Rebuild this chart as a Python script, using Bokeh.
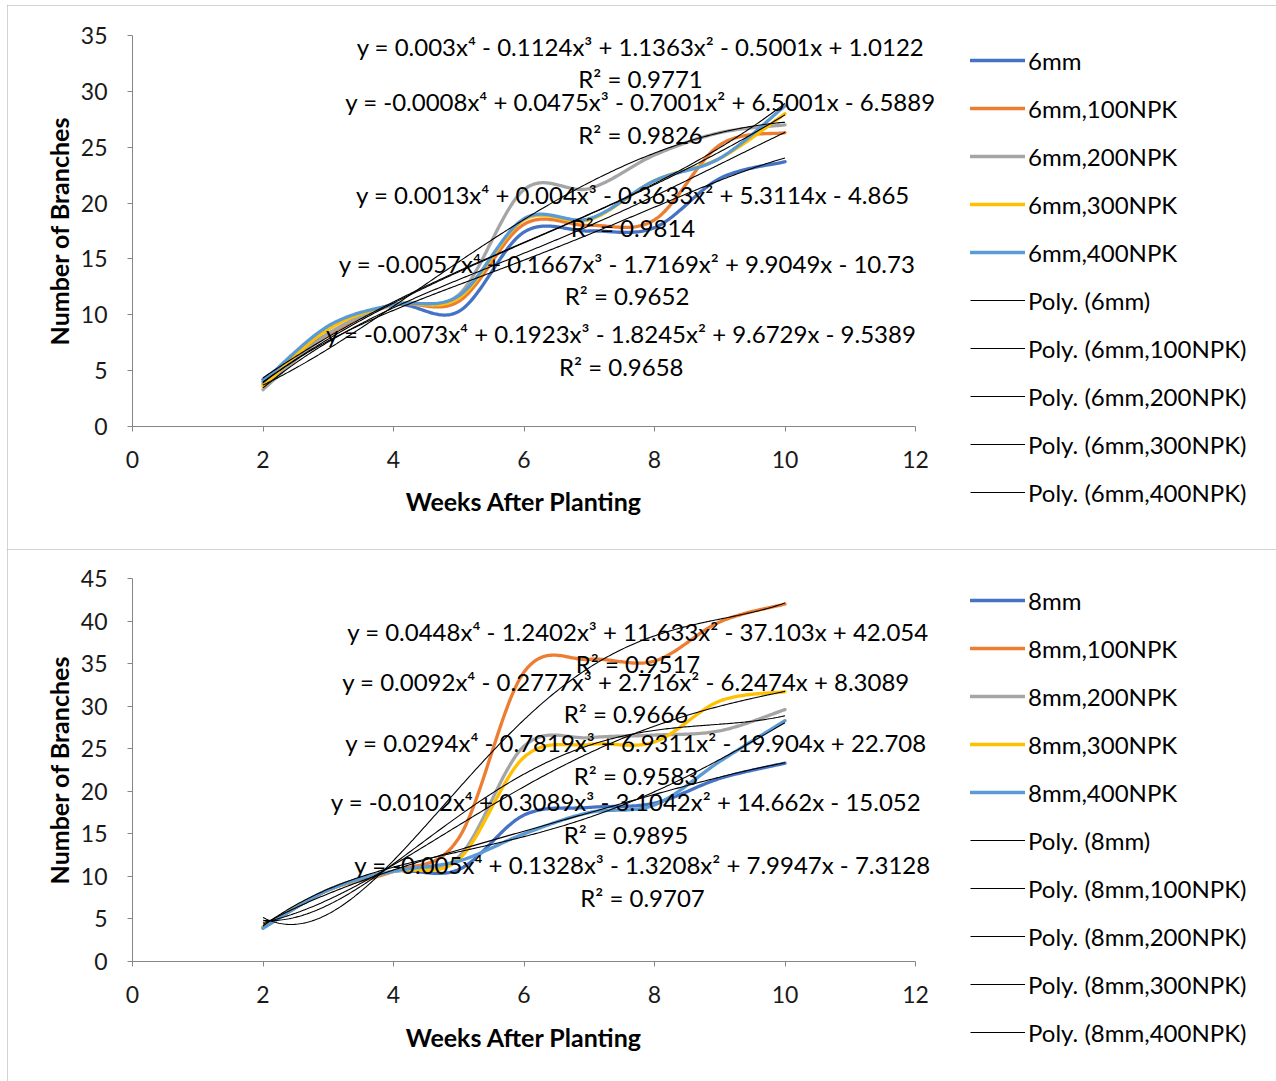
import numpy as np
from bokeh.plotting import figure
from bokeh.models import (Legend, LegendItem, Label, SingleIntervalTicker, Range1d)
from bokeh.layouts import column
from bokeh.embed import file_html
from bokeh.resources import INLINE

# ---------------- data ----------------
weeks = [2, 3, 4, 5, 6, 7, 8, 9, 10]

names_6 = ["6mm", "6mm,100NPK", "6mm,200NPK", "6mm,300NPK", "6mm,400NPK"]
b6_0 = [4.2, 8.3, 10.9, 10.3, 17.4, 17.5, 17.8, 22.2, 23.7]
b6_100 = [3.8, 8.2, 10.9, 11.2, 18.1, 18.0, 18.5, 25.2, 26.3]
b6_200 = [3.3, 8.3, 10.9, 11.8, 21.2, 21.3, 24.3, 26.3, 27.0]
b6_300 = [3.6, 8.7, 10.9, 11.5, 18.5, 18.5, 22.0, 24.0, 28.0]
b6_400 = [4.0, 9.0, 10.9, 11.7, 18.6, 18.6, 22.0, 24.0, 28.7]

# trendline coefficients (x^4 ... x^0) and R^2
c6_0 = [-0.0073, 0.1923, -1.8245, 9.6729, -9.5389]
c6_100 = [-0.0057, 0.1667, -1.7169, 9.9049, -10.73]
c6_200 = [0.003, -0.1124, 1.1363, -0.5001, 1.0122]
c6_300 = [-0.0008, 0.0475, -0.7001, 6.5001, -6.5889]
c6_400 = [0.0013, 0.004, -0.3633, 5.3114, -4.865]
r2_6 = [0.9658, 0.9652, 0.9771, 0.9826, 0.9814]

names_8 = ["8mm", "8mm,100NPK", "8mm,200NPK", "8mm,300NPK", "8mm,400NPK"]
b8_0 = [4.0, 8.4, 10.6, 10.8, 17.2, 18.1, 18.6, 21.5, 23.3]
b8_100 = [4.0, 8.4, 10.6, 14.5, 34.0, 35.5, 35.3, 39.9, 42.0]
b8_200 = [4.0, 8.4, 10.6, 12.3, 25.3, 26.3, 26.6, 27.1, 29.6]
b8_300 = [4.0, 8.4, 10.6, 12.0, 24.0, 25.5, 25.8, 30.6, 31.7]
b8_400 = [3.9, 8.4, 10.6, 11.8, 15.0, 17.5, 18.4, 23.5, 28.3]

c8_0 = [-0.005, 0.1328, -1.3208, 7.9947, -7.3128]
c8_100 = [0.0448, -1.2402, 11.633, -37.103, 42.054]
c8_200 = [0.0294, -0.7819, 6.9311, -19.904, 22.708]
c8_300 = [0.0092, -0.2777, 2.716, -6.2474, 8.3089]
c8_400 = [-0.0102, 0.3089, -3.1042, 14.662, -15.052]
r2_8 = [0.9707, 0.9517, 0.9583, 0.9666, 0.9895]

x_label = "Weeks After Planting"
y_label = "Number of Branches"
x_max = 12

# ---------------- styling / layout ----------------
COLORS = ["#4472C4", "#ED7D31", "#A5A5A5", "#FFC000", "#5B9BD5"]
FONT = "Lato"
FS_TICK = "23px"
FS = "24px"
FS_TITLE = "25px"
W = 1269
X0_PX = 125           # canvas x of week 0
AXIS_W = 783          # pixels spanned by weeks 0..12
LEG_X = 963           # canvas x where the legend keys start
ROW_H, ROW_GAP = 30, 18

# equation label anchor positions (data units): (x, y_eq, y_r2)
pos_6 = [(7.49, 8.33, 5.37), (7.58, 14.59, 11.73), (7.785, 34.02, 31.15),
         (7.785, 29.09, 26.14), (7.67, 20.77, 17.81)]
pos_8 = [(7.816, 11.40, 7.52), (7.747, 38.77, 35.01), (7.716, 25.73, 21.85),
         (7.563, 32.90, 29.14), (7.563, 18.80, 14.92)]


def smooth(xs, ys, n=40):
    """Excel-like smoothed line (Catmull-Rom as cubic Bezier)."""
    P = np.column_stack([xs, ys]).astype(float)
    m = len(P)
    out = []
    t = np.linspace(0, 1, n)[:, None]
    for i in range(m - 1):
        p0 = P[max(i - 1, 0)]
        p1 = P[i]
        p2 = P[i + 1]
        p3 = P[min(i + 2, m - 1)]
        c1 = p1 + (p2 - p0) / 6.0
        c2 = p2 - (p3 - p1) / 6.0
        seg = ((1 - t) ** 3) * p1 + 3 * ((1 - t) ** 2) * t * c1 + 3 * (1 - t) * t ** 2 * c2 + t ** 3 * p2
        if i > 0:
            seg = seg[1:]
        out.append(seg)
    S = np.vstack(out)
    return S[:, 0], S[:, 1]


SUP = ["x\u2074", "x\u00b3", "x\u00b2", "x", ""]


def equation(c):
    s = "y = " + f"{c[0]:g}" + SUP[0]
    for k in range(1, 5):
        sign = " + " if c[k] >= 0 else " - "
        s += sign + f"{abs(c[k]):g}" + SUP[k]
    return s


def make_chart(names, series, coefs, r2s, pos, ymax, height, y0_px, axis_h,
               xtitle_px, leg_top, margin):
    ppx = AXIS_W / x_max
    ppy = axis_h / ymax
    x_rng = Range1d(-X0_PX / ppx, (W - X0_PX) / ppx)
    y_rng = Range1d(-(height - y0_px) / ppy, y0_px / ppy)
    p = figure(width=W, height=height, x_range=x_rng, y_range=y_rng,
               output_backend="svg", toolbar_location=None, title_location=None,
               min_border=0, margin=margin)
    p.outline_line_color = None
    p.xgrid.visible = False
    p.ygrid.visible = False
    p.background_fill_color = "white"
    p.border_fill_color = "white"

    p.xaxis.ticker = SingleIntervalTicker(interval=2, num_minor_ticks=0)
    p.yaxis.ticker = SingleIntervalTicker(interval=5, num_minor_ticks=0)
    p.xaxis.bounds = (0, x_max)
    p.yaxis.bounds = (0, ymax)
    p.xaxis.fixed_location = 0
    p.yaxis.fixed_location = 0
    for ax in (p.xaxis, p.yaxis):
        ax.axis_line_color = "#868686"
        ax.major_tick_line_color = "#868686"
        ax.major_tick_out = 5
        ax.major_tick_in = 0
        ax.minor_tick_line_color = None
        ax.major_label_text_font = FONT
        ax.major_label_text_font_size = FS_TICK
        ax.major_label_text_color = "#1a1a1a"
    p.xaxis.major_label_standoff = 19
    p.yaxis.major_label_standoff = 20

    # axis titles
    p.add_layout(Label(x=x_max / 2, y=-(xtitle_px - y0_px) / ppy, text=x_label,
                       text_align="center", text_baseline="middle", text_font=FONT,
                       text_font_size=FS_TITLE, text_font_style="bold", text_color="#000000"))
    p.add_layout(Label(x=-(X0_PX - 51) / ppx, y=ymax / 2, text=y_label, angle=np.pi / 2,
                       text_align="center", text_baseline="middle", text_font=FONT,
                       text_font_size=FS_TITLE, text_font_style="bold", text_color="#000000"))

    data_items = []
    for name, ys, col in zip(names, series, COLORS):
        sx, sy = smooth(weeks, ys)
        r = p.line(sx, sy, line_color=col, line_width=3.3, line_join="round", line_cap="round")
        data_items.append(LegendItem(label=name, renderers=[r]))

    poly_items = []
    for name, c in zip(names, coefs):
        xx = np.linspace(weeks[0], weeks[-1], 300)
        yy = np.polyval(c, xx)
        r = p.line(xx, yy, line_color="#000000", line_width=1.1)
        poly_items.append(LegendItem(label=f"Poly. ({name})", renderers=[r]))

    for c, r2, (lx, ly1, ly2) in zip(coefs, r2s, pos):
        p.add_layout(Label(x=lx, y=ly1, text=equation(c), text_align="center",
                           text_baseline="middle", text_font=FONT, text_font_size=FS,
                           text_color="#000000"))
        p.add_layout(Label(x=lx, y=ly2, text=f"R\u00b2 = {r2}", text_align="center",
                           text_baseline="middle", text_font=FONT, text_font_size=FS,
                           text_color="#000000"))

    items = data_items + poly_items
    n = len(items)
    leg_h = n * ROW_H + (n - 1) * ROW_GAP
    vy = height - leg_top - leg_h
    legend = Legend(items=items, location=(LEG_X, vy),
                    padding=0, margin=0, spacing=ROW_GAP,
                    glyph_width=55, glyph_height=ROW_H, label_height=ROW_H,
                    label_standoff=3, border_line_color=None,
                    background_fill_alpha=0,
                    label_text_font=FONT, label_text_font_size=FS,
                    label_text_color="#000000")
    p.add_layout(legend)
    p.styles = {"outline": "1px solid #a6a6a6", "outline-offset": "-1px"}
    return p


# top box: page y 5..549, axis 0..35 spans canvas y 421..30
p1 = make_chart(names_6, [b6_0, b6_100, b6_200, b6_300, b6_400],
                [c6_0, c6_100, c6_200, c6_300, c6_400], r2_6, pos_6,
                35, 544, 421, 391, 495, 40, (5, 0, 0, 7))
# bottom box: page y 549..1081, axis 0..45 spans canvas y 412..29
p2 = make_chart(names_8, [b8_0, b8_100, b8_200, b8_300, b8_400],
                [c8_0, c8_100, c8_200, c8_300, c8_400], r2_8, pos_8,
                45, 532, 412, 383, 487, 36, (0, 0, 0, 7))

layout = column(p1, p2, spacing=0)
open("out.html", "w").write(file_html(layout, INLINE))
